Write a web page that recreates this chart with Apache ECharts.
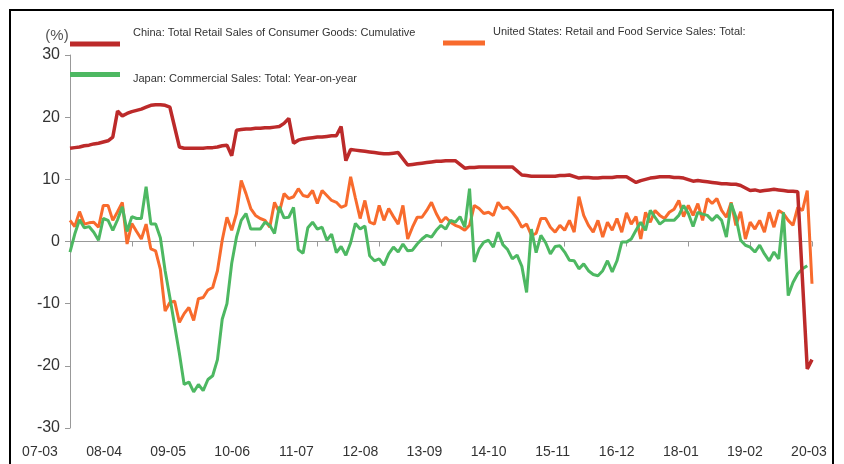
<!DOCTYPE html>
<html><head><meta charset="utf-8">
<script src="https://cdn.jsdelivr.net/npm/echarts@6/dist/echarts.min.js"></script>
<style>html,body{margin:0;padding:0;background:#fff}#c{width:844px;height:464px}</style>
</head><body><div id="c"></div><script>
// Month categories 2007-03 .. 2020-03
const categories = [];
for (let k = 0; k <= 156; k++) {
  const t = 2007 * 12 + 2 + k;
  const y = Math.floor(t / 12), m = t % 12 + 1;
  categories.push(String(y % 100).padStart(2, '0') + '-' + String(m).padStart(2, '0'));
}
// tick labels shown under the axis (every 13 months)
const tickLabels = categories.filter((_, k) => k % 13 === 0);
const seriesNames = [
  'China: Total Retail Sales of Consumer Goods: Cumulative',
  'United States: Retail and Food Service Sales: Total:',
  'Japan: Commercial Sales: Total: Year-on-year'
];
const china = [
  15.0,15.1,15.2,15.4,15.5,15.7,15.8,16.0,16.2,16.8,
  21.0,20.2,20.6,20.9,21.1,21.3,21.6,21.9,22.0,22.0,21.9,21.6,
  null,
  15.2,15.0,15.0,15.0,15.0,15.0,15.1,15.1,15.2,15.4,15.5,
  13.8,
  17.9,18.0,18.1,18.1,18.2,18.2,18.3,18.3,18.4,18.5,
  19.0,19.8,
  15.8,16.3,16.5,16.6,16.7,16.8,16.8,16.9,17.0,17.0,
  18.5,
  13.0,
  14.8,14.7,14.6,14.5,14.4,14.3,14.2,14.1,14.1,14.2,14.3,
  null,
  12.3,12.4,12.5,12.6,12.7,12.8,12.9,12.9,13.0,13.0,13.0,
  null,
  11.8,11.9,11.9,12.0,12.0,12.0,12.0,12.0,12.0,12.0,12.0,
  null,
  10.7,10.6,10.5,10.5,10.5,10.5,10.5,10.5,10.6,10.6,10.7,
  null,
  10.2,10.3,10.3,10.2,10.2,10.3,10.3,10.3,10.4,10.4,10.4,
  null,
  9.5,9.8,10.0,10.2,10.3,10.4,10.4,10.4,10.3,10.3,10.2,
  null,
  9.7,9.8,9.7,9.6,9.5,9.4,9.3,9.3,9.2,9.2,9.0,
  null,
  8.2,8.3,8.1,8.2,8.3,8.4,8.3,8.2,8.1,8.1,8.0,
  null,
  -20.5,-19.0
];
const usa = [
  3.4,2.4,4.8,2.8,3.0,3.1,2.3,5.8,5.8,3.4,
  4.8,6.3,-0.4,2.9,1.6,0.4,2.8,-1.2,-1.5,-4.5,
  -11.2,-9.8,-9.6,-13.0,-11.6,-10.6,-12.7,-9.2,-9.0,-7.8,
  -7.4,-4.7,0.2,3.9,1.8,4.5,9.8,7.7,5.3,4.2,
  3.7,3.4,2.3,6.3,4.7,7.7,6.9,7.2,8.5,7.4,
  7.2,8.2,6.1,8.2,7.4,6.6,6.3,5.5,5.8,10.4,
  7.0,3.7,6.6,3.1,2.8,5.8,3.4,5.3,4.0,2.8,
  5.8,0.4,2.3,3.9,3.9,5.0,6.3,4.5,3.1,3.9,
  3.1,2.6,2.3,1.8,2.6,5.8,5.3,4.5,4.7,4.2,
  6.3,5.3,5.5,4.7,3.7,2.3,2.8,1.0,1.3,3.7,
  3.7,2.3,1.5,2.6,1.8,3.4,1.5,7.2,4.2,2.6,
  1.5,3.4,0.7,3.1,1.8,3.7,1.5,4.6,2.8,4.0,
  0.4,4.7,3.1,5.0,4.2,3.7,4.7,5.2,6.6,4.0,
  5.8,4.2,6.1,3.4,6.9,6.1,6.9,5.0,3.9,6.3,
  2.6,4.8,0.4,3.1,2.0,3.4,1.5,4.7,2.3,5.0,
  4.5,3.4,2.6,5.5,5.0,8.2,-6.8
];
const japan = [
  -1.7,1.2,3.5,2.2,2.4,1.5,0.2,3.7,3.4,1.8,
  3.5,5.6,1.6,4.0,3.7,3.7,8.8,2.8,2.8,0.6,
  -4.7,-9.0,-13.5,-18.0,-23.0,-22.6,-24.2,-23.0,-24.0,-22.2,
  -21.6,-19.0,-12.5,-10.0,-3.5,0.7,3.4,4.5,2.0,2.0,
  2.0,3.1,2.6,1.3,5.6,3.8,3.9,5.5,-1.3,-1.9,
  2.2,3.1,2.0,2.3,0.2,1.2,-1.8,-0.8,-2.2,-0.2,
  2.9,2.0,2.5,-2.3,-3.1,-2.8,-3.8,-2.0,-0.9,-1.7,
  -0.4,-1.5,-1.4,-0.4,0.4,1.0,0.7,1.8,2.6,2.0,
  3.4,3.1,4.0,2.3,8.5,-3.3,-1.2,-0.1,0.2,-0.9,
  1.5,-0.5,-1.3,-2.8,-2.2,-4.0,-8.2,2.0,-1.8,1.0,
  -0.2,-2.0,-0.8,-0.7,-1.7,-3.0,-3.1,-4.4,-3.6,-4.7,
  -5.3,-5.5,-4.7,-3.1,-4.9,-3.1,-0.1,-0.1,0.4,1.8,
  3.1,1.8,5.0,3.9,2.8,3.4,3.4,3.4,4.2,5.8,
  4.5,2.4,4.7,4.4,4.2,3.4,4.2,3.4,0.7,6.1,
  3.9,0.2,-0.6,-0.9,-1.7,-0.6,-2.0,-3.1,-1.7,-2.8,
  4.7,-8.7,-6.6,-5.2,-4.4,-3.9,null
];
const colors = ['#BC2A2A', '#F86B2D', '#4DB862'];
const yTicks = {min: -30, max: 30, interval: 10};

const chart = echarts.init(document.getElementById('c'), null, {renderer: 'canvas'});
const FONT = '"Liberation Sans", Arial, sans-serif';
const legendText = {fontSize: 11, color: '#333', fontFamily: FONT};
chart.setOption({
  animation: false,
  backgroundColor: '#fff',
  textStyle: {fontFamily: FONT},
  grid: [
    {left: 70, right: 32, top: 55, bottom: 36, containLabel: false},
    {left: 40, right: 35, top: 55, bottom: 36, containLabel: false}
  ],
  graphic: [{
    type: 'rect', silent: true, z: 100,
    shape: {x: 10, y: 10, width: 823, height: 470},
    style: {fill: null, stroke: '#000', lineWidth: 2}
  }],
  legend: [
    {data: [seriesNames[0]], left: 70, top: 22, padding: 0, icon: 'rect', itemWidth: 50, itemHeight: 5,
     formatter: n => n + '\n',
     textStyle: Object.assign({lineHeight: 22, padding: [0, 0, 0, 8]}, legendText)},
    {data: [seriesNames[1]], left: 443, top: 21, padding: 0, icon: 'rect', itemWidth: 42, itemHeight: 5,
     formatter: n => n + '\n',
     textStyle: Object.assign({lineHeight: 22, padding: [0, 0, 0, 3]}, legendText)},
    {data: [seriesNames[2]], left: 70, top: 65, padding: 0, icon: 'rect', itemWidth: 50, itemHeight: 5,
     formatter: n => '\n' + n,
     textStyle: Object.assign({lineHeight: 8, padding: [0, 0, 0, 8]}, legendText)}
  ],
  xAxis: [
    {type: 'category', gridIndex: 0, data: categories, boundaryGap: false, position: 'bottom',
     axisLine: {show: true, onZero: true, lineStyle: {color: '#999', width: 1}},
     axisTick: {show: true, interval: 12, length: 5, lineStyle: {color: '#999'}},
     axisLabel: {show: false}},
    {type: 'category', gridIndex: 1, data: tickLabels, boundaryGap: false, position: 'bottom',
     axisLine: {show: false, onZero: false}, axisTick: {show: false},
     axisLabel: {interval: 0, fontSize: 14, color: '#333', margin: 17}}
  ],
  yAxis: [{
    type: 'value', gridIndex: 0, min: yTicks.min, max: yTicks.max, interval: yTicks.interval,
    name: '(%)', nameLocation: 'end', nameGap: 12,
    nameTextStyle: {fontSize: 15, color: '#555', padding: [0, 26, 0, 0]},
    axisLine: {show: true, lineStyle: {color: '#999', width: 1}},
    axisTick: {show: true, length: 5, lineStyle: {color: '#999'}},
    axisLabel: {fontSize: 16, color: '#333', margin: 10},
    splitLine: {show: false}
  }, {
    type: 'value', gridIndex: 1, min: yTicks.min, max: yTicks.max, show: false
  }],
  series: [
    {name: seriesNames[1], type: 'line', data: usa, showSymbol: false, xAxisIndex: 0, yAxisIndex: 0,
     lineStyle: {width: 3, color: colors[1]}, itemStyle: {color: colors[1]}},
    {name: seriesNames[2], type: 'line', data: japan, showSymbol: false, xAxisIndex: 0, yAxisIndex: 0,
     lineStyle: {width: 3, color: colors[2]}, itemStyle: {color: colors[2]}},
    {name: seriesNames[0], type: 'line', data: china, showSymbol: false, connectNulls: true, xAxisIndex: 0, yAxisIndex: 0,
     lineStyle: {width: 3.5, color: colors[0]}, itemStyle: {color: colors[0]}}
  ]
});
</script></body></html>
